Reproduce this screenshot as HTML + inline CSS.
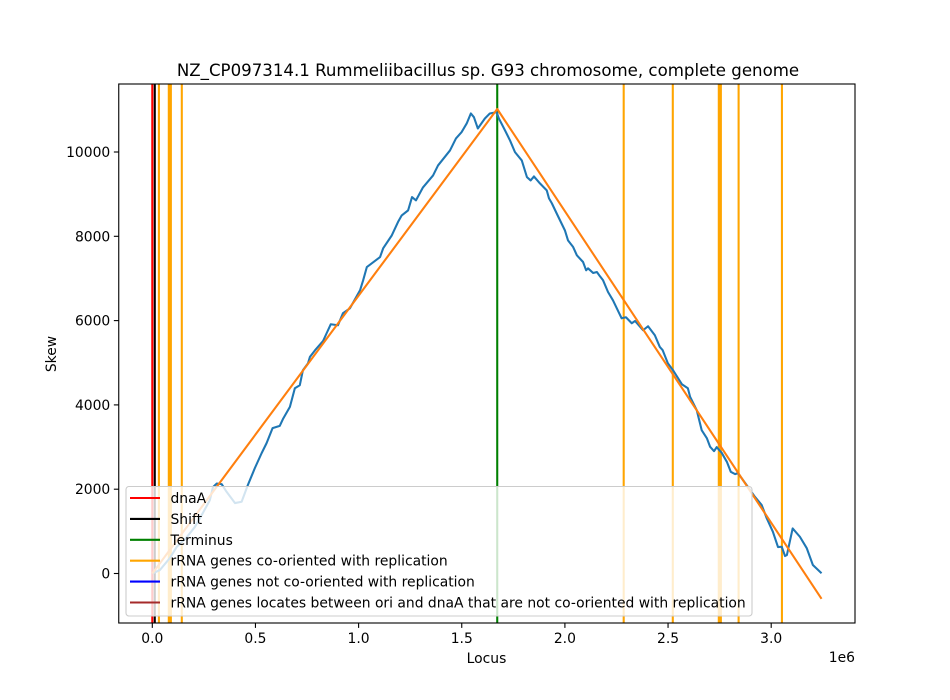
<!DOCTYPE html>
<html>
<head>
<meta charset="utf-8">
<style>
html,body{margin:0;padding:0;background:#fff;width:950px;height:700px;overflow:hidden}
svg{display:block}
text{font-family:"DejaVu Sans","Liberation Sans",sans-serif;fill:#000}
</style>
</head>
<body>
<svg id="chart" width="950" height="700" viewBox="0 0 950 700" xmlns="http://www.w3.org/2000/svg">
<rect x="0" y="0" width="950" height="700" fill="#fff"/>
<rect x="118.75" y="84" width="736.25" height="539" fill="#fff"/>
<g id="vlines"></g>
<g id="series"></g>
<g id="legend">
<rect x="126" y="486.5" width="626" height="129.5" rx="3" ry="3" fill="#fff" fill-opacity="0.8" stroke="#ccc" stroke-width="1.1"/>
</g>
<g id="axes"></g>
<text x="488" y="76" font-size="16.62" text-anchor="middle">NZ_CP097314.1 Rummeliibacillus sp. G93 chromosome, complete genome</text>
<text x="486.5" y="663" font-size="13.89" text-anchor="middle">Locus</text>
<text x="855" y="662" font-size="13.89" text-anchor="end">1e6</text>
<text x="56" y="354" font-size="13.89" text-anchor="middle" transform="rotate(-90 56 354)">Skew</text>
</svg>
<script>
const locus = [0,0.037,0.085,0.118,0.165,0.206,0.245,0.279,0.294,0.312,0.336,0.360,0.401,0.433,0.463,0.497,0.530,0.554,0.583,0.618,0.633,0.667,0.691,0.715,0.730,0.755,0.764,0.789,0.828,0.845,0.865,0.900,0.924,0.958,1.007,1.022,1.040,1.064,1.104,1.119,1.161,1.191,1.209,1.240,1.259,1.278,1.312,1.361,1.385,1.443,1.472,1.499,1.524,1.544,1.559,1.578,1.612,1.636,1.669,1.680,1.710,1.734,1.758,1.791,1.816,1.834,1.850,1.879,1.912,1.923,1.937,1.960,2.000,2.015,2.040,2.058,2.088,2.103,2.112,2.137,2.155,2.170,2.185,2.209,2.233,2.275,2.296,2.324,2.340,2.379,2.403,2.436,2.460,2.474,2.499,2.524,2.567,2.596,2.607,2.639,2.663,2.688,2.704,2.723,2.736,2.760,2.785,2.804,2.825,2.839,2.881,2.921,2.954,2.978,3.008,3.033,3.051,3.067,3.076,3.104,3.139,3.172,3.202,3.244];
const skew = [0,83,367,628,850,1102,1434,1742,2050,2133,2121,1939,1671,1702,2097,2500,2856,3093,3448,3503,3662,3953,4396,4467,4823,4989,5138,5297,5517,5700,5913,5889,6174,6292,6719,6956,7271,7359,7508,7714,8022,8338,8496,8615,8930,8852,9160,9444,9681,10037,10321,10470,10677,10914,10826,10558,10795,10914,10945,10795,10511,10274,9997,9800,9404,9326,9421,9255,9089,8899,8781,8544,8141,7904,7745,7549,7390,7193,7240,7129,7153,7051,6956,6679,6482,6055,6079,5937,5991,5771,5866,5653,5375,5297,4989,4823,4491,4396,4190,3875,3401,3211,3005,2903,2998,2863,2650,2413,2358,2382,2097,1820,1623,1315,991,628,635,415,438,1069,872,604,201,5];
const fitLocus = [0,1.672,3.244];
const fitSkew = [0,11020,-600];
const dnaA = [0.0];
const shift = [0.012];
const terminus = [1.672];
const rrnaCo = [0.032,0.080,0.084,0.090,0.143,2.285,2.523,2.746,2.750,2.756,2.842,3.052];
const rrnaNotCo = [];
const rrnaBetween = [];
const xTicks = [0,0.5,1.0,1.5,2.0,2.5,3.0];
const xTickLabels = ['0.0','0.5','1.0','1.5','2.0','2.5','3.0'];
const yTicks = [0,2000,4000,6000,8000,10000];
const yTickLabels = ['0','2000','4000','6000','8000','10000'];
const legendLabels = ['dnaA','Shift','Terminus','rRNA genes co-oriented with replication','rRNA genes not co-oriented with replication','rRNA genes locates between ori and dnaA that are not co-oriented with replication'];

const NS = 'http://www.w3.org/2000/svg';
const AX = {l:118.75,r:855,t:84,b:623};
function xScale(v){return 152.3+206.3*v;}
function yScale(v){return 573.5-0.04215*v;}
function make(tag,attrs){
  const el=document.createElementNS(NS,tag);
  for(const k in attrs){el.setAttribute(k,attrs[k]);}
  return el;
}
const vGroup=document.getElementById('vlines');
function drawVLines(values,color,name){
  values.forEach(function(v){
    const ln=make('line',{x1:xScale(v),x2:xScale(v),y1:AX.t,y2:AX.b,stroke:color,'stroke-width':2.08});
    
    
    vGroup.appendChild(ln);
  });
}
drawVLines(dnaA,'#ff0000','dnaA-line');
drawVLines(shift,'#000000','shift-line');
drawVLines(terminus,'#008000','terminus-line');
drawVLines(rrnaCo,'#ffa500','rrna-co-oriented-line');
drawVLines(rrnaNotCo,'#0000ff','rrna-not-co-oriented-line');
drawVLines(rrnaBetween,'#a52a2a','rrna-between-ori-dnaa-line');

const sGroup=document.getElementById('series');
function pathFrom(xs,ys){
  return xs.map(function(x,i){return (i?'L':'M')+xScale(x).toFixed(2)+' '+yScale(ys[i]).toFixed(2);}).join(' ');
}
const skewLine=make('path',{d:pathFrom(locus,skew),fill:'none',stroke:'#1f77b4','stroke-width':2.08,'stroke-linejoin':'round'});


sGroup.appendChild(skewLine);
const fitLine=make('path',{d:pathFrom(fitLocus,fitSkew),fill:'none',stroke:'#ff7f0e','stroke-width':2.08,'stroke-linejoin':'round'});


sGroup.appendChild(fitLine);

const aGroup=document.getElementById('axes');
const frame=make('rect',{x:AX.l,y:AX.t,width:AX.r-AX.l,height:AX.b-AX.t,fill:'none',stroke:'#000','stroke-width':1.1});


aGroup.appendChild(frame);
xTicks.forEach(function(v,i){
  const t=make('line',{x1:xScale(v),x2:xScale(v),y1:AX.b,y2:AX.b+4.9,stroke:'#000','stroke-width':1.1});
  
  
  aGroup.appendChild(t);
  const l=make('text',{x:xScale(v),y:643,'font-size':13.89,'text-anchor':'middle'});
  
  
  l.textContent=xTickLabels[i];
  aGroup.appendChild(l);
});
yTicks.forEach(function(v,i){
  const t=make('line',{x1:AX.l,x2:AX.l-4.9,y1:yScale(v),y2:yScale(v),stroke:'#000','stroke-width':1.1});
  
  
  aGroup.appendChild(t);
  const l=make('text',{x:AX.l-8.5,y:yScale(v)+5,'font-size':13.89,'text-anchor':'end'});
  
  
  l.textContent=yTickLabels[i];
  aGroup.appendChild(l);
});

const lGroup=document.getElementById('legend');
const legendColors=['#ff0000','#000000','#008000','#ffa500','#0000ff','#a52a2a'];
legendLabels.forEach(function(txt,i){
  const y=498+i*20.9;
  const h=make('line',{x1:130,x2:160,y1:y,y2:y,stroke:legendColors[i],'stroke-width':2.08});
  
  
  lGroup.appendChild(h);
  const l=make('text',{x:170.5,y:y+5,'font-size':13.89});
  
  
  l.textContent=txt;
  lGroup.appendChild(l);
});
</script>
</body>
</html>
